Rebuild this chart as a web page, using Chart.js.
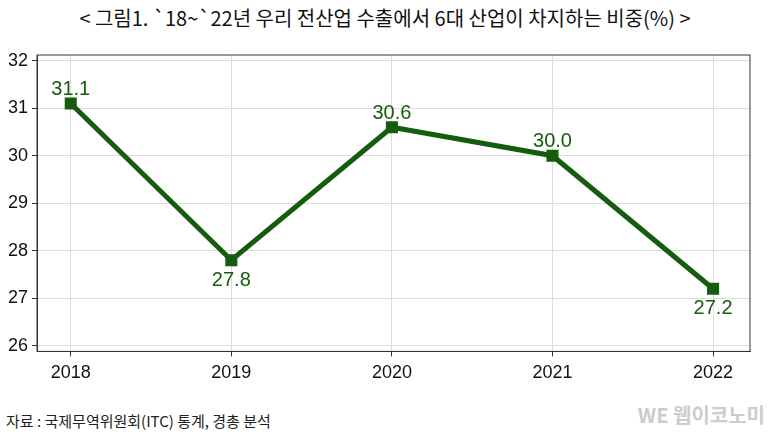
<!DOCTYPE html>
<html><head><meta charset="utf-8">
<script src="https://cdn.jsdelivr.net/npm/chart.js@4"></script>
<style>
body{margin:0;background:#fff;font-family:"Noto Sans CJK KR",sans-serif;}
#wrap{position:relative;width:783px;height:438px;}
#title{position:absolute;top:3px;left:0;width:770px;text-align:center;font-size:20px;color:#111;}
#src{position:absolute;left:6px;top:410px;font-size:15px;color:#222;}
#wm{position:absolute;right:18px;top:400px;font-size:20px;color:#ccc;font-weight:bold;}
#c{position:absolute;left:0;top:40px;}
</style></head><body>
<div id="wrap">
<div id="title">&lt; 그림1. `18~`22년 우리 전산업 수출에서 6대 산업이 차지하는 비중(%) &gt;</div>
<canvas id="c" width="783" height="350"></canvas>
<div id="src">자료 : 국제무역위원회(ITC) 통계, 경총 분석</div>
<div id="wm">WE 웹이코노미</div>
</div>
<script>
const years = [2018, 2019, 2020, 2021, 2022];
const shares = [31.1, 27.8, 30.6, 30.0, 27.2];
const labelPos = ['above', 'below', 'above', 'above', 'below'];
const yTicks = [26, 27, 28, 29, 30, 31, 32];

const green = '#165c0e';
const numFont = '"Liberation Sans", Arial, sans-serif';

const valueLabels = {
  id: 'valueLabels',
  afterDatasetsDraw(chart) {
    const ctx = chart.ctx;
    const meta = chart.getDatasetMeta(0);
    ctx.save();
    ctx.font = '20px ' + numFont;
    ctx.fillStyle = green;
    ctx.textAlign = 'center';
    meta.data.forEach((pt, i) => {
      const below = labelPos[i] === 'below';
      ctx.textBaseline = below ? 'top' : 'bottom';
      ctx.fillText(shares[i].toFixed(1), pt.x, below ? pt.y + 10 : pt.y - 4);
    });
    ctx.restore();
  }
};

new Chart(document.getElementById('c'), {
  type: 'line',
  data: {
    datasets: [{
      data: years.map((y, i) => ({x: y, y: shares[i]})),
      borderColor: green, backgroundColor: green,
      borderWidth: 5, pointStyle: 'rect', pointRadius: 5, tension: 0
    }]
  },
  options: {
    responsive: false, animation: false,
    layout: {padding: {left: 4, right: 33, top: 15, bottom: 0}},
    plugins: {legend: {display: false}, tooltip: {enabled: false}},
    scales: {
      x: {
        type: 'linear', min: 2017.79, max: 2022.23,
        afterBuildTicks: s => { s.ticks = years.map(v => ({value: v})); },
        ticks: {color: '#111', font: {size: 18, family: numFont}, callback: v => String(v), padding: 6},
        grid: {color: '#dcdcdc', drawTicks: true, tickLength: 5, tickColor: '#333'},
        border: {color: '#333', width: 1}
      },
      y: {
        min: 25.88, max: 32.12,
        afterBuildTicks: s => { s.ticks = yTicks.map(v => ({value: v})); },
        ticks: {color: '#111', font: {size: 18, family: numFont}, padding: 4},
        grid: {color: '#dcdcdc', tickLength: 5, tickColor: '#333'},
        border: {color: '#333', width: 1}
      }
    }
  },
  plugins: [valueLabels, {
    id: 'frame',
    afterDraw(chart) {
      const a = chart.chartArea, ctx = chart.ctx;
      ctx.save(); ctx.strokeStyle = '#333'; ctx.lineWidth = 1;
      ctx.strokeRect(a.left, a.top, a.right - a.left, a.bottom - a.top);
      ctx.restore();
    }
  }]
});
</script>
</body></html>
